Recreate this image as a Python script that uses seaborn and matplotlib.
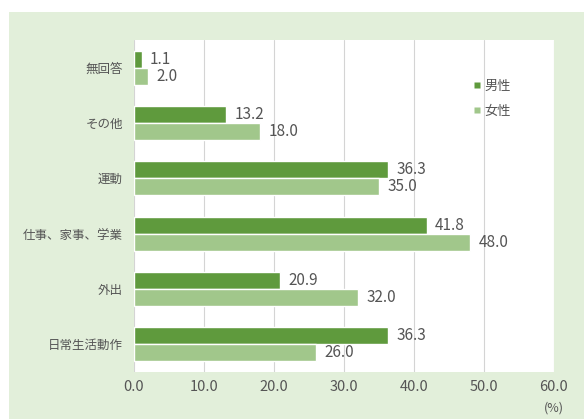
import matplotlib
matplotlib.use("Agg")
import matplotlib.pyplot as plt
from matplotlib.patches import Rectangle
from matplotlib.lines import Line2D
import seaborn as sns
import pandas as pd

categories = ["無回答", "その他", "運動", "仕事、家事、学業", "外出", "日常生活動作"]
male = [1.1, 13.2, 36.3, 41.8, 20.9, 36.3]
female = [2.0, 18.0, 35.0, 48.0, 32.0, 26.0]
series = ["男性", "女性"]
xticks = [0, 10, 20, 30, 40, 50, 60]

colors = {"男性": "#5f9a3d", "女性": "#a1c78b"}
text_color = "#555555"

df = pd.DataFrame({
    "項目": categories * 2,
    "割合": male + female,
    "性別": [series[0]] * len(categories) + [series[1]] * len(categories),
})

sns.set_theme(style="white")
plt.rcParams["font.family"] = ["Noto Sans CJK JP", "DejaVu Sans"]

fig = plt.figure(figsize=(5.84, 4.19), dpi=100)
fig.patch.set_facecolor("white")
fig.patches.append(Rectangle((9 / 584, 0), 1, (419 - 12) / 419,
                             transform=fig.transFigure, facecolor="#e2efda",
                             edgecolor="none", zorder=-10))

ax = fig.add_axes([134 / 584, 1 - 372 / 419, 420 / 584, 332 / 419])
ax.set_facecolor("white")

sns.barplot(data=df, y="項目", x="割合", hue="性別", order=categories,
            hue_order=series, palette=colors, orient="h", width=0.62,
            saturation=1, ax=ax, legend=False, zorder=3)

for container in ax.containers:
    for bar in container:
        val = bar.get_width()
        ax.annotate(f"{val:.1f}", (val, bar.get_y() + bar.get_height() / 2),
                    xytext=(6, 0), textcoords="offset points",
                    ha="left", va="center", fontsize=11, color=text_color,
                    zorder=5)

ax.set_xlim(0, 60)
ax.set_ylim(len(categories) - 0.5, -0.5)
ax.set_xticks(xticks)
ax.set_xticklabels([f"{t:.1f}" for t in xticks])
ax.tick_params(axis="x", length=0, pad=6, labelsize=10.5, colors=text_color)
ax.tick_params(axis="y", length=0, pad=8, labelsize=9, colors=text_color)
ax.xaxis.grid(True, color="#d4d4d4", linewidth=0.8, zorder=0)
ax.set_axisbelow(True)
for side in ax.spines.values():
    side.set_visible(False)
ax.set_xlabel("")
ax.set_ylabel("")

ax.text(1.0, -0.11, "(%)", transform=ax.transAxes, ha="center", va="center",
        fontsize=9, color=text_color)

handles = [Line2D([], [], marker="s", linestyle="none", markersize=4,
                  markerfacecolor=colors[s], markeredgecolor="none")
           for s in series]
leg = ax.legend(handles, series, loc="upper left", bbox_to_anchor=(0.78, 0.915),
                frameon=False, handlelength=0.6, handletextpad=0.2,
                labelspacing=0.9, fontsize=9.5)
for t in leg.get_texts():
    t.set_color(text_color)

fig.savefig("out.png", dpi=100, facecolor=fig.get_facecolor())
